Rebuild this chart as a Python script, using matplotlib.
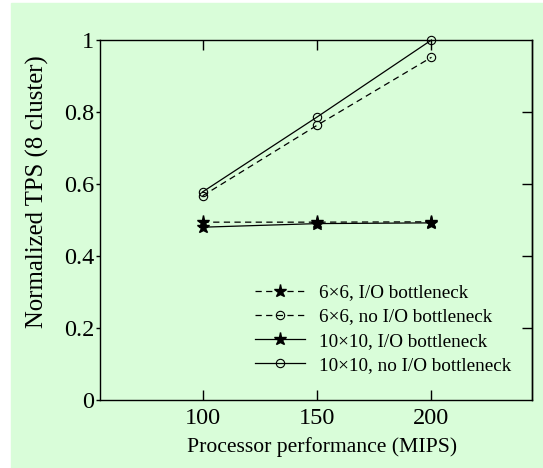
import matplotlib
matplotlib.use('Agg')
import matplotlib.pyplot as plt
from matplotlib.patches import Rectangle

#########################################################################
# DATA
#########################################################################
mips = [100, 150, 200]
tps_6x6_io = [0.494, 0.494, 0.495]
tps_6x6_noio = [0.567, 0.763, 0.952]
tps_10x10_io = [0.480, 0.490, 0.492]
tps_10x10_noio = [0.578, 0.786, 1.0]

labels = ['6\u00d76, I/O bottleneck', '6\u00d76, no I/O bottleneck',
          '10\u00d710, I/O bottleneck', '10\u00d710, no I/O bottleneck']

x_ticks = [100, 150, 200]
y_ticks = [0, 0.2, 0.4, 0.6, 0.8, 1]
y_ticklabels = ['0', '0.2', '0.4', '0.6', '0.8', '1']

#########################################################################
# PLOT
#########################################################################
plt.rcParams['font.family'] = ['Liberation Serif', 'DejaVu Serif']
green = '#d9fdd9'
W, H = 543, 468

fig = plt.figure(figsize=(W / 100, H / 100), dpi=100)
fig.patch.set_facecolor('white')
fig.patches.append(Rectangle((11 / W, 0), 1 - 11 / W, 1 - 3 / H,
                             transform=fig.transFigure, color=green,
                             zorder=-10))

ax = fig.add_axes([100 / W, (H - 400) / H, 432 / W, 360 / H])
ax.set_facecolor(green)

dash = (0, (5, 3.5))
lw = 0.9
ax.plot(mips, tps_6x6_io, color='black', lw=lw, linestyle=dash,
        marker='*', markersize=9.5, label=labels[0])
ax.plot(mips, tps_6x6_noio, color='black', lw=lw, linestyle=dash,
        marker='o', markersize=6, markerfacecolor='none',
        markeredgewidth=0.8, label=labels[1])
ax.plot(mips, tps_10x10_io, color='black', lw=lw, linestyle='-',
        marker='*', markersize=9.5, label=labels[2])
ax.plot(mips, tps_10x10_noio, color='black', lw=lw, linestyle='-',
        marker='o', markersize=6, markerfacecolor='none',
        markeredgewidth=0.8, label=labels[3], clip_on=False)

ax.set_xlim(55.2, 243.9)
ax.set_ylim(0, 1)
ax.set_xticks(x_ticks)
ax.set_yticks(y_ticks)
ax.set_yticklabels(y_ticklabels)

for s in ax.spines.values():
    s.set_linewidth(1.0)

ax.tick_params(axis='x', which='major', direction='in', length=7,
               width=1, top=True, labelsize=17.5, pad=6)
ax.tick_params(axis='y', which='major', direction='out', length=3,
               width=1, labelsize=17.5, pad=1)
# right side ticks point inward
ax2 = ax.secondary_yaxis('right')
ax2.set_yticks([0.2, 0.4, 0.6, 0.8])
ax2.tick_params(direction='in', length=7, width=1, labelright=False)
ax2.spines['right'].set_linewidth(1.0)

ax.set_xlabel('Processor performance (MIPS)', fontsize=15.6)
ax.xaxis.set_label_coords(0.514, -0.103)
ax.set_ylabel('Normalized TPS (8 cluster)', fontsize=17.8, va='center')
ax.yaxis.set_label_coords(-0.145, 0.58)

leg = ax.legend(loc='upper left',
                bbox_to_anchor=((255 - 100) / 432, (400 - 284) / 360),
                frameon=False, fontsize=13.8, handlelength=2.6,
                handletextpad=0.75, labelspacing=0.35, borderpad=0,
                borderaxespad=0)

fig.savefig('out.png', dpi=100, facecolor=fig.get_facecolor())
